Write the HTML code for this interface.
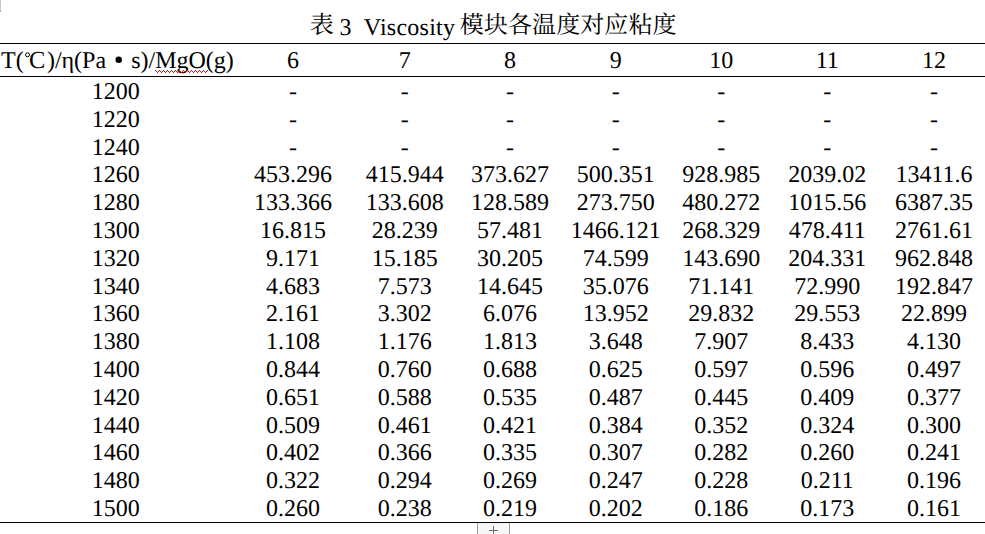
<!DOCTYPE html>
<html><head><meta charset="utf-8"><title>Table 3</title>
<style>
html,body{margin:0;padding:0;background:#fff;overflow:hidden;}
body{width:985px;height:534px;position:relative;overflow:hidden;font-family:"Liberation Serif",serif;font-size:24px;color:#000;text-rendering:geometricPrecision;}
.t{position:absolute;white-space:pre;line-height:28px;height:28px;font-size:24px;}
.n{}
.c{text-align:center;}
.k{font-family:"Liberation Serif","Noto Serif CJK SC",serif;width:24.12px;text-align:center;}
.ln{position:absolute;left:0;width:985px;height:1px;background:#000;}
</style></head><body>

<div style="position:absolute;left:0;top:0;width:1px;height:11px;background:#c8c8c8"></div><div style="position:absolute;left:0;top:11px;width:1px;height:1px;background:#a0a0a0"></div>
<div class="t k" style="left:309.60px;top:12.00px;">表</div>
<div class="t n" style="left:339.40px;top:14.00px;">3</div>
<div class="t" style="left:363.80px;top:14.00px;letter-spacing:0.24px">Viscosity</div>
<div class="t k" style="left:459.60px;top:12.00px;">模</div>
<div class="t k" style="left:483.72px;top:12.00px;">块</div>
<div class="t k" style="left:507.84px;top:12.00px;">各</div>
<div class="t k" style="left:531.96px;top:12.00px;">温</div>
<div class="t k" style="left:556.08px;top:12.00px;">度</div>
<div class="t k" style="left:580.20px;top:12.00px;">对</div>
<div class="t k" style="left:604.32px;top:12.00px;">应</div>
<div class="t k" style="left:628.44px;top:12.00px;">粘</div>
<div class="t k" style="left:652.56px;top:12.00px;">度</div>
<div class="ln" style="top:43px"></div>
<div class="ln" style="top:76px"></div>
<div class="ln" style="top:522px"></div>
<div class="t" style="left:1.00px;top:47.00px;">T(</div>
<svg style="position:absolute;left:23px;top:50px" width="10" height="10" viewBox="0 0 10 10"><circle cx="4.5" cy="4.8" r="2.0" fill="none" stroke="#000" stroke-width="1.0"/></svg>
<div class="t" style="left:29.00px;top:46.83px;font-size:24.5px">C</div>
<div class="t" style="left:46.90px;top:47.00px;">)/η(Pa</div>
<svg style="position:absolute;left:112px;top:53px" width="14" height="14" viewBox="0 0 14 14"><circle cx="6.7" cy="6.8" r="3.25" fill="#000"/></svg>
<div class="t" style="left:131.20px;top:47.00px;">s)/MgO(g)</div>
<svg style="position:absolute;left:155px;top:70px" width="54" height="4" viewBox="0 0 54 4" shape-rendering="crispEdges"><path d="M0 0h1v1.3h-1zM1 1h1v1.3h-1zM2 2h1v1.3h-1zM3 1h1v1.3h-1zM4 0h1v1.3h-1zM5 1h1v1.3h-1zM6 2h1v1.3h-1zM7 1h1v1.3h-1zM8 0h1v1.3h-1zM9 1h1v1.3h-1zM10 2h1v1.3h-1zM11 1h1v1.3h-1zM12 0h1v1.3h-1zM13 1h1v1.3h-1zM14 2h1v1.3h-1zM15 1h1v1.3h-1zM16 0h1v1.3h-1zM17 1h1v1.3h-1zM18 2h1v1.3h-1zM19 1h1v1.3h-1zM20 0h1v1.3h-1zM21 1h1v1.3h-1zM22 2h1v1.3h-1zM23 1h1v1.3h-1zM24 0h1v1.3h-1zM25 1h1v1.3h-1zM26 2h1v1.3h-1zM27 1h1v1.3h-1zM28 0h1v1.3h-1zM29 1h1v1.3h-1zM30 2h1v1.3h-1zM31 1h1v1.3h-1zM32 0h1v1.3h-1zM33 1h1v1.3h-1zM34 2h1v1.3h-1zM35 1h1v1.3h-1zM36 0h1v1.3h-1zM37 1h1v1.3h-1zM38 2h1v1.3h-1zM39 1h1v1.3h-1zM40 0h1v1.3h-1zM41 1h1v1.3h-1zM42 2h1v1.3h-1zM43 1h1v1.3h-1zM44 0h1v1.3h-1zM45 1h1v1.3h-1zM46 2h1v1.3h-1zM47 1h1v1.3h-1zM48 0h1v1.3h-1zM49 1h1v1.3h-1zM50 2h1v1.3h-1zM51 1h1v1.3h-1zM52 0h1v1.3h-1z" fill="#ff0000"/></svg>
<div class="t c n" style="left:242.90px;top:47.00px;width:100px">6</div>
<div class="t c n" style="left:354.80px;top:47.00px;width:100px">7</div>
<div class="t c n" style="left:460.10px;top:47.00px;width:100px">8</div>
<div class="t c n" style="left:565.80px;top:47.00px;width:100px">9</div>
<div class="t c n" style="left:671.30px;top:47.00px;width:100px">10</div>
<div class="t c n" style="left:777.20px;top:47.00px;width:100px">11</div>
<div class="t c n" style="left:884.00px;top:47.00px;width:100px">12</div>
<div class="t c n" style="left:65.70px;top:78.00px;width:100px">1200</div>
<div class="t c n" style="left:242.90px;top:78.00px;width:100px">-</div>
<div class="t c n" style="left:354.80px;top:78.00px;width:100px">-</div>
<div class="t c n" style="left:460.10px;top:78.00px;width:100px">-</div>
<div class="t c n" style="left:565.80px;top:78.00px;width:100px">-</div>
<div class="t c n" style="left:671.30px;top:78.00px;width:100px">-</div>
<div class="t c n" style="left:777.20px;top:78.00px;width:100px">-</div>
<div class="t c n" style="left:884.00px;top:78.00px;width:100px">-</div>
<div class="t c n" style="left:65.70px;top:106.00px;width:100px">1220</div>
<div class="t c n" style="left:242.90px;top:106.00px;width:100px">-</div>
<div class="t c n" style="left:354.80px;top:106.00px;width:100px">-</div>
<div class="t c n" style="left:460.10px;top:106.00px;width:100px">-</div>
<div class="t c n" style="left:565.80px;top:106.00px;width:100px">-</div>
<div class="t c n" style="left:671.30px;top:106.00px;width:100px">-</div>
<div class="t c n" style="left:777.20px;top:106.00px;width:100px">-</div>
<div class="t c n" style="left:884.00px;top:106.00px;width:100px">-</div>
<div class="t c n" style="left:65.70px;top:134.00px;width:100px">1240</div>
<div class="t c n" style="left:242.90px;top:134.00px;width:100px">-</div>
<div class="t c n" style="left:354.80px;top:134.00px;width:100px">-</div>
<div class="t c n" style="left:460.10px;top:134.00px;width:100px">-</div>
<div class="t c n" style="left:565.80px;top:134.00px;width:100px">-</div>
<div class="t c n" style="left:671.30px;top:134.00px;width:100px">-</div>
<div class="t c n" style="left:777.20px;top:134.00px;width:100px">-</div>
<div class="t c n" style="left:884.00px;top:134.00px;width:100px">-</div>
<div class="t c n" style="left:65.70px;top:161.00px;width:100px">1260</div>
<div class="t c n" style="left:242.90px;top:161.00px;width:100px">453.296</div>
<div class="t c n" style="left:354.80px;top:161.00px;width:100px">415.944</div>
<div class="t c n" style="left:460.10px;top:161.00px;width:100px">373.627</div>
<div class="t c n" style="left:565.80px;top:161.00px;width:100px">500.351</div>
<div class="t c n" style="left:671.30px;top:161.00px;width:100px">928.985</div>
<div class="t c n" style="left:777.20px;top:161.00px;width:100px">2039.02</div>
<div class="t c n" style="left:884.00px;top:161.00px;width:100px">13411.6</div>
<div class="t c n" style="left:65.70px;top:189.00px;width:100px">1280</div>
<div class="t c n" style="left:242.90px;top:189.00px;width:100px">133.366</div>
<div class="t c n" style="left:354.80px;top:189.00px;width:100px">133.608</div>
<div class="t c n" style="left:460.10px;top:189.00px;width:100px">128.589</div>
<div class="t c n" style="left:565.80px;top:189.00px;width:100px">273.750</div>
<div class="t c n" style="left:671.30px;top:189.00px;width:100px">480.272</div>
<div class="t c n" style="left:777.20px;top:189.00px;width:100px">1015.56</div>
<div class="t c n" style="left:884.00px;top:189.00px;width:100px">6387.35</div>
<div class="t c n" style="left:65.70px;top:217.00px;width:100px">1300</div>
<div class="t c n" style="left:242.90px;top:217.00px;width:100px">16.815</div>
<div class="t c n" style="left:354.80px;top:217.00px;width:100px">28.239</div>
<div class="t c n" style="left:460.10px;top:217.00px;width:100px">57.481</div>
<div class="t c n" style="left:565.80px;top:217.00px;width:100px">1466.121</div>
<div class="t c n" style="left:671.30px;top:217.00px;width:100px">268.329</div>
<div class="t c n" style="left:777.20px;top:217.00px;width:100px">478.411</div>
<div class="t c n" style="left:884.00px;top:217.00px;width:100px">2761.61</div>
<div class="t c n" style="left:65.70px;top:245.00px;width:100px">1320</div>
<div class="t c n" style="left:242.90px;top:245.00px;width:100px">9.171</div>
<div class="t c n" style="left:354.80px;top:245.00px;width:100px">15.185</div>
<div class="t c n" style="left:460.10px;top:245.00px;width:100px">30.205</div>
<div class="t c n" style="left:565.80px;top:245.00px;width:100px">74.599</div>
<div class="t c n" style="left:671.30px;top:245.00px;width:100px">143.690</div>
<div class="t c n" style="left:777.20px;top:245.00px;width:100px">204.331</div>
<div class="t c n" style="left:884.00px;top:245.00px;width:100px">962.848</div>
<div class="t c n" style="left:65.70px;top:273.00px;width:100px">1340</div>
<div class="t c n" style="left:242.90px;top:273.00px;width:100px">4.683</div>
<div class="t c n" style="left:354.80px;top:273.00px;width:100px">7.573</div>
<div class="t c n" style="left:460.10px;top:273.00px;width:100px">14.645</div>
<div class="t c n" style="left:565.80px;top:273.00px;width:100px">35.076</div>
<div class="t c n" style="left:671.30px;top:273.00px;width:100px">71.141</div>
<div class="t c n" style="left:777.20px;top:273.00px;width:100px">72.990</div>
<div class="t c n" style="left:884.00px;top:273.00px;width:100px">192.847</div>
<div class="t c n" style="left:65.70px;top:300.00px;width:100px">1360</div>
<div class="t c n" style="left:242.90px;top:300.00px;width:100px">2.161</div>
<div class="t c n" style="left:354.80px;top:300.00px;width:100px">3.302</div>
<div class="t c n" style="left:460.10px;top:300.00px;width:100px">6.076</div>
<div class="t c n" style="left:565.80px;top:300.00px;width:100px">13.952</div>
<div class="t c n" style="left:671.30px;top:300.00px;width:100px">29.832</div>
<div class="t c n" style="left:777.20px;top:300.00px;width:100px">29.553</div>
<div class="t c n" style="left:884.00px;top:300.00px;width:100px">22.899</div>
<div class="t c n" style="left:65.70px;top:328.00px;width:100px">1380</div>
<div class="t c n" style="left:242.90px;top:328.00px;width:100px">1.108</div>
<div class="t c n" style="left:354.80px;top:328.00px;width:100px">1.176</div>
<div class="t c n" style="left:460.10px;top:328.00px;width:100px">1.813</div>
<div class="t c n" style="left:565.80px;top:328.00px;width:100px">3.648</div>
<div class="t c n" style="left:671.30px;top:328.00px;width:100px">7.907</div>
<div class="t c n" style="left:777.20px;top:328.00px;width:100px">8.433</div>
<div class="t c n" style="left:884.00px;top:328.00px;width:100px">4.130</div>
<div class="t c n" style="left:65.70px;top:356.00px;width:100px">1400</div>
<div class="t c n" style="left:242.90px;top:356.00px;width:100px">0.844</div>
<div class="t c n" style="left:354.80px;top:356.00px;width:100px">0.760</div>
<div class="t c n" style="left:460.10px;top:356.00px;width:100px">0.688</div>
<div class="t c n" style="left:565.80px;top:356.00px;width:100px">0.625</div>
<div class="t c n" style="left:671.30px;top:356.00px;width:100px">0.597</div>
<div class="t c n" style="left:777.20px;top:356.00px;width:100px">0.596</div>
<div class="t c n" style="left:884.00px;top:356.00px;width:100px">0.497</div>
<div class="t c n" style="left:65.70px;top:384.00px;width:100px">1420</div>
<div class="t c n" style="left:242.90px;top:384.00px;width:100px">0.651</div>
<div class="t c n" style="left:354.80px;top:384.00px;width:100px">0.588</div>
<div class="t c n" style="left:460.10px;top:384.00px;width:100px">0.535</div>
<div class="t c n" style="left:565.80px;top:384.00px;width:100px">0.487</div>
<div class="t c n" style="left:671.30px;top:384.00px;width:100px">0.445</div>
<div class="t c n" style="left:777.20px;top:384.00px;width:100px">0.409</div>
<div class="t c n" style="left:884.00px;top:384.00px;width:100px">0.377</div>
<div class="t c n" style="left:65.70px;top:412.00px;width:100px">1440</div>
<div class="t c n" style="left:242.90px;top:412.00px;width:100px">0.509</div>
<div class="t c n" style="left:354.80px;top:412.00px;width:100px">0.461</div>
<div class="t c n" style="left:460.10px;top:412.00px;width:100px">0.421</div>
<div class="t c n" style="left:565.80px;top:412.00px;width:100px">0.384</div>
<div class="t c n" style="left:671.30px;top:412.00px;width:100px">0.352</div>
<div class="t c n" style="left:777.20px;top:412.00px;width:100px">0.324</div>
<div class="t c n" style="left:884.00px;top:412.00px;width:100px">0.300</div>
<div class="t c n" style="left:65.70px;top:439.00px;width:100px">1460</div>
<div class="t c n" style="left:242.90px;top:439.00px;width:100px">0.402</div>
<div class="t c n" style="left:354.80px;top:439.00px;width:100px">0.366</div>
<div class="t c n" style="left:460.10px;top:439.00px;width:100px">0.335</div>
<div class="t c n" style="left:565.80px;top:439.00px;width:100px">0.307</div>
<div class="t c n" style="left:671.30px;top:439.00px;width:100px">0.282</div>
<div class="t c n" style="left:777.20px;top:439.00px;width:100px">0.260</div>
<div class="t c n" style="left:884.00px;top:439.00px;width:100px">0.241</div>
<div class="t c n" style="left:65.70px;top:467.00px;width:100px">1480</div>
<div class="t c n" style="left:242.90px;top:467.00px;width:100px">0.322</div>
<div class="t c n" style="left:354.80px;top:467.00px;width:100px">0.294</div>
<div class="t c n" style="left:460.10px;top:467.00px;width:100px">0.269</div>
<div class="t c n" style="left:565.80px;top:467.00px;width:100px">0.247</div>
<div class="t c n" style="left:671.30px;top:467.00px;width:100px">0.228</div>
<div class="t c n" style="left:777.20px;top:467.00px;width:100px">0.211</div>
<div class="t c n" style="left:884.00px;top:467.00px;width:100px">0.196</div>
<div class="t c n" style="left:65.70px;top:495.00px;width:100px">1500</div>
<div class="t c n" style="left:242.90px;top:495.00px;width:100px">0.260</div>
<div class="t c n" style="left:354.80px;top:495.00px;width:100px">0.238</div>
<div class="t c n" style="left:460.10px;top:495.00px;width:100px">0.219</div>
<div class="t c n" style="left:565.80px;top:495.00px;width:100px">0.202</div>
<div class="t c n" style="left:671.30px;top:495.00px;width:100px">0.186</div>
<div class="t c n" style="left:777.20px;top:495.00px;width:100px">0.173</div>
<div class="t c n" style="left:884.00px;top:495.00px;width:100px">0.161</div>
<div style="position:absolute;left:477px;top:523px;width:33px;height:11px;background:#f6f6f6;border-left:1px solid #9c9c9c;border-right:1px solid #9c9c9c;box-sizing:border-box"></div>
<div style="position:absolute;left:489px;top:530px;width:9px;height:1px;background:#707070"></div>
<div style="position:absolute;left:493px;top:526px;width:1px;height:8px;background:#707070"></div>
</body></html>
